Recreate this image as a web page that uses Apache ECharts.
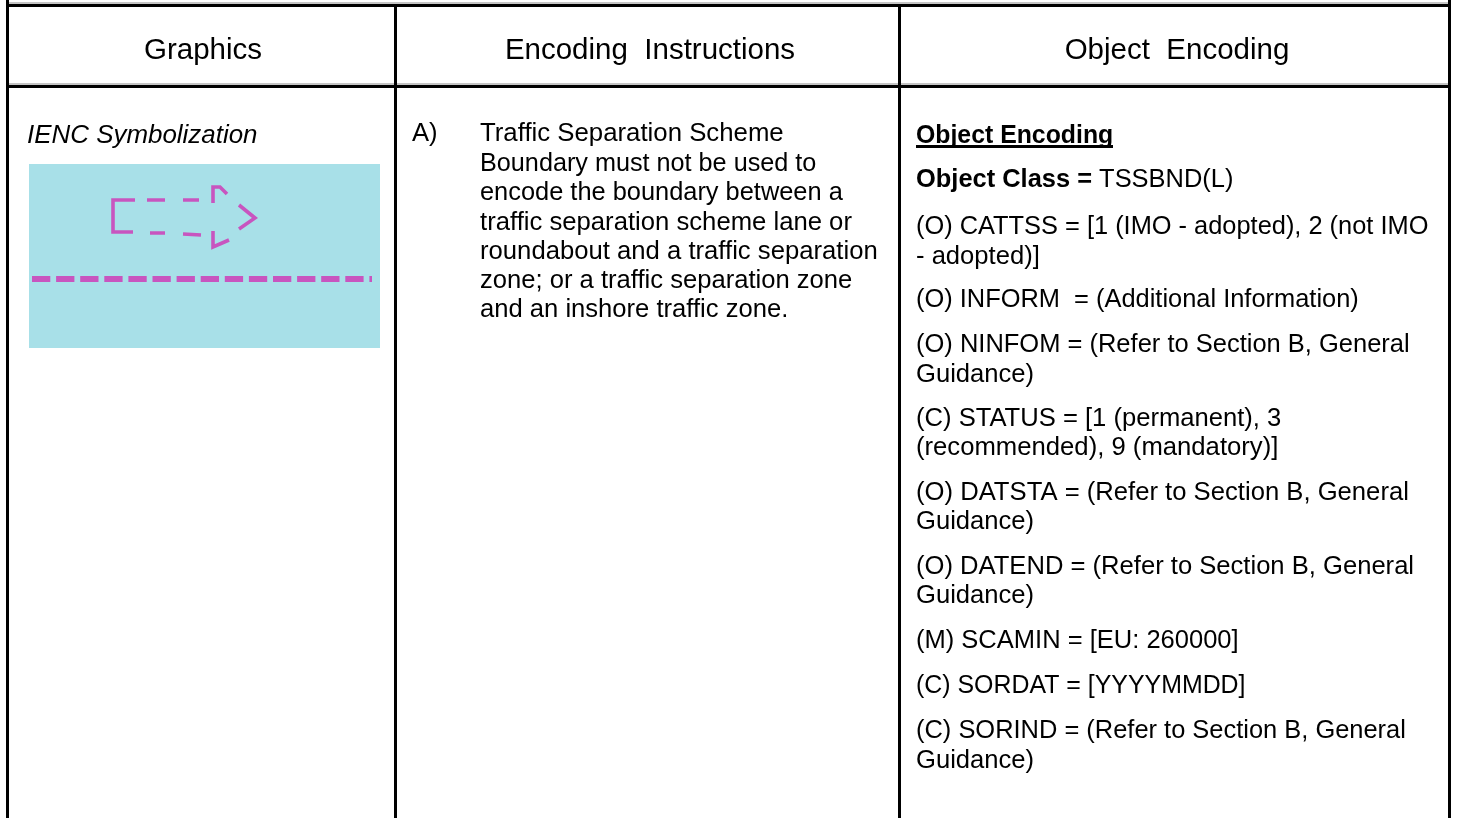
<!DOCTYPE html>
<html><head><meta charset="utf-8">
<style>html,body{margin:0;padding:0;background:#fff}#c{width:1457px;height:818px}</style>
<script src="https://cdn.jsdelivr.net/npm/echarts@6/dist/echarts.min.js"></script>
</head><body><div id="c"></div>
<script>
const headers = ['Graphics', 'Encoding  Instructions', 'Object  Encoding'];
const graphicsTitle = 'IENC Symbolization';
const itemLabel = 'A)';
const instructionLines = [
  'Traffic Separation Scheme',
  'Boundary must not be used to',
  'encode the boundary between a',
  'traffic separation scheme lane or',
  'roundabout and a traffic separation',
  'zone; or a traffic separation zone',
  'and an inshore traffic zone.'
];
const encodingLines = [
  'Object Encoding',
  '{b|Object Class =} TSSBND(L)',
  '(O) CATTSS = [1 (IMO - adopted), 2 (not IMO',
  '- adopted)]',
  '(O) INFORM  = (Additional Information)',
  '(O) NINFOM = (Refer to Section B, General',
  'Guidance)',
  '(C) STATUS = [1 (permanent), 3',
  '(recommended), 9 (mandatory)]',
  '(O) DATSTA = (Refer to Section B, General',
  'Guidance)',
  '(O) DATEND = (Refer to Section B, General',
  'Guidance)',
  '(M) SCAMIN = [EU: 260000]',
  '(C) SORDAT = [YYYYMMDD]',
  '(C) SORIND = (Refer to Section B, General',
  'Guidance)'
];
// symbol outline, in pixels of the symbol picture; '-' breaks the line
const symbolX = [106,84,84,104,'-',118,136,'-',121,136,'-',154,170,'-',154,172,'-',184,184,191,198,'-',210,226,210,'-',184,184,200];
const symbolY = [36,36,68,68,'-',36,36,'-',69,69,'-',36,36,'-',70,71,'-',39,23,23,30,'-',41,54,65,'-',67,83,76];
const laneX = [3, 343];
const laneY = [115, 115];

const FONT = '"Liberation Sans", Arial, sans-serif';
const BODY = 25.6, HEAD = 29.5;
const headerCentres = [203, 650, 1177];
const headerBaseline = 61.5;
const instructionBase = [143,172.5,202,231.5,260.5,290,319];
const encodingBase = [144.5,188.5,235.5,265.5,308.5,353.5,383.5,427.5,456.5,501.5,530.5,575.5,604.5,649.5,694.5,739.5,769.5];
const instructionFit = [1.007,.985,.992,1.003,1.003,1,1];
const encodingFit = [.97,.994,.992,1,.993,.996,1,1,1.003,1.002,1,1,1,.997,.973,.994,1];

function txt(s, x, base, size, extra, fit) {
  return {type:'text', silent:true, x:x, y:base - size*0.35, scaleX:fit||1,
    style:Object.assign({text:s, fill:'#000', fontFamily:FONT, fontSize:size,
      align:'left', verticalAlign:'middle'}, extra||{})};
}
function bar(x,y,w,h,c){return {type:'rect', silent:true, shape:{x,y,width:w,height:h}, style:{fill:c}};}

const g = [
  bar(9,2,1442,2,'#c4c4c4'), bar(9,83,1439,2,'#c4c4c4'),
  bar(6,4,1445,3,'#000'), bar(6,85,1445,3,'#000'),
  bar(6,0,3,818,'#000'), bar(394,4,3,814,'#000'), bar(898,4,3,814,'#000'), bar(1448,0,3,818,'#000')
];
headers.forEach((h,i)=>g.push(txt(h, headerCentres[i], headerBaseline, HEAD, {align:'center'})));
g.push(txt(graphicsTitle, 27, 144.5, BODY, {fontStyle:'italic'}, 1.013));
g.push(txt(itemLabel, 412, 143, BODY));
instructionLines.forEach((l,i)=>g.push(txt(l, 480, instructionBase[i], BODY, null, instructionFit[i])));
encodingLines.forEach((l,i)=>{
  const ex = i===0 ? {fontWeight:'bold'} : {rich:{b:{fontFamily:FONT,fontSize:BODY,fontWeight:'bold',fill:'#000'}}};
  g.push(txt(l, 916, encodingBase[i], BODY, ex, encodingFit[i]));
});
g.push(bar(916,145,197,3,'#000'));

const chart = echarts.init(document.getElementById('c'), null, {renderer:'canvas'});
chart.setOption({
  animation:false,
  backgroundColor:'#fff',
  grid:{left:29, top:164, width:351, height:184, show:true, backgroundColor:'#a8e0e8', borderWidth:0},
  xAxis:{type:'value', min:0, max:351, show:false},
  yAxis:{type:'value', min:0, max:184, inverse:true, show:false},
  tooltip:{show:false},
  series:[
    {type:'line', silent:true, symbol:'none', connectNulls:false,
      lineStyle:{color:'#c855bf', width:3.6, join:'miter', cap:'butt'},
      data:symbolX.map((x,i)=>[x, symbolY[i]])},
    {type:'line', silent:true, symbol:'none',
      lineStyle:{color:'#c855bf', width:6, type:[18.3,5.8], cap:'butt'},
      data:laneX.map((x,i)=>[x, laneY[i]])}
  ],
  graphic:{elements:g}
});
</script></body></html>
